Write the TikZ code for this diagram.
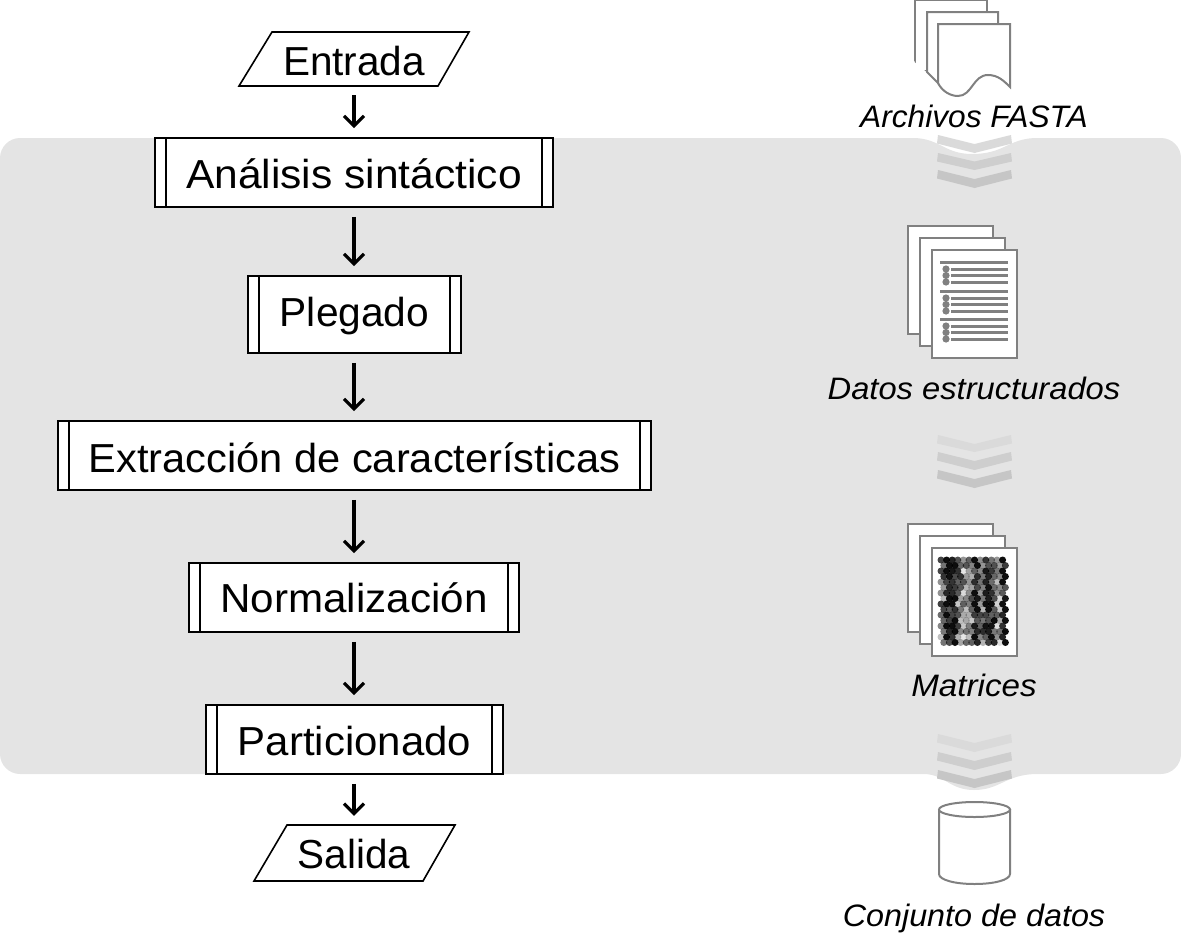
\documentclass[tikz,border=0pt]{standalone}
\usepackage{fontspec}
\setmainfont{Liberation Sans}
\usetikzlibrary{arrows.meta}
\definecolor{panel}{HTML}{E4E4E4}
\definecolor{icon}{HTML}{808080}
\definecolor{chevA}{HTML}{DADADA}
\definecolor{chevB}{HTML}{CECECE}
\definecolor{chevC}{HTML}{C6C6C6}
\newcommand{\bigtext}[3]{{\fontsize{40.5}{42}\selectfont\addfontfeature{FakeStretch=#1}\raisebox{#2}[0pt][0pt]{#3}}}
\newcommand{\smalltext}[2]{{\fontsize{31}{33}\selectfont\itshape\addfontfeature{FakeStretch=#1}#2}}
\tikzset{
  proc/.style={draw=black,fill=white,line width=1.6pt,rectangle,inner sep=0pt,text=black},
  io/.style={inner sep=0pt,text=black},
  flow/.style={line width=3.2pt,black,-{Straight Barb[length=10pt,width=20pt,line width=3.2pt]},shorten <=9pt,shorten >=9pt},
  bar/.style={line width=1.6pt,black},
  para/.style={draw=black,fill=white,line width=1.6pt},
  sheet/.style={draw=icon,fill=white,line width=2pt},
  ruleline/.style={draw=icon,line width=3pt},
  lbl/.style={inner sep=0pt,text=black}
}
\newcommand{\chev}[4]{\fill[#4] (938,#1) -- (974.5,#2) -- (1011,#1) -- (1012,#1+8.5) -- (974.5,#3) -- (937,#1+8.5) -- cycle;}
\newcommand{\docrules}[1]{%
  \draw[ruleline] (940,#1) -- (1008,#1);
  \foreach \d in {7,13.5,20}{\draw[ruleline] (951,#1+\d) -- (1008,#1+\d);\fill[icon] (946,#1+\d) circle (3.6);}
}
\begin{document}
\begin{tikzpicture}[x=1pt,y=-1pt]
\useasboundingbox (0,0) rectangle (1181,948);
% panel
\fill[panel] (20,138) -- (915,138) .. controls (940,139) and (945,154) .. (972,154) .. controls (1004,154) and (1008,139) .. (1035,138) -- (1161,138)
  .. controls (1172,138) and (1181,147) .. (1181,158) -- (1181,754) .. controls (1181,765) and (1172,774) .. (1161,774) -- (1035,774)
  .. controls (1005,775) and (1000,790) .. (974,790) .. controls (950,790) and (945,775) .. (925,774) -- (20,774)
  .. controls (9,774) and (0,765) .. (0,754) -- (0,158) .. controls (0,147) and (9,138) .. (20,138) -- cycle;
% chevrons
\chev{135}{144}{153}{chevA}\chev{153}{161.5}{170}{chevB}\chev{170}{179}{188}{chevC}
\chev{435}{444}{452}{chevA}\chev{452}{461}{470}{chevB}\chev{470}{479}{488}{chevC}
\chev{734}{743}{752}{chevA}\chev{752}{761}{770}{chevB}\chev{770}{779}{788}{chevC}
% parallelograms
\draw[para] (272,32) -- (469,32) -- (438,86) -- (239,86) -- cycle;
\draw[para] (287,825) -- (455,825) -- (423,881) -- (254,881) -- cycle;
% flow nodes
\node[io,minimum width=199pt,minimum height=54pt] (ent) at (354,59) {\bigtext{1.0}{-16pt}{Entrada}};
\node[proc,minimum width=398pt,minimum height=69pt] (ana) at (354,172.5) {\bigtext{1.05}{-15.5pt}{Análisis sintáctico}};
\node[proc,minimum width=213pt,minimum height=77pt] (ple) at (354.5,314.5) {\bigtext{1.005}{-11.5pt}{Plegado}};
\node[proc,minimum width=593pt,minimum height=69pt] (ext) at (354.5,455.5) {\bigtext{1.027}{-16.5pt}{Extracción de características}};
\node[proc,minimum width=330pt,minimum height=69pt] (nor) at (354,597.5) {\bigtext{1.041}{-15pt}{Normalización}};
\node[proc,minimum width=297pt,minimum height=69pt] (par) at (354.5,739.5) {\bigtext{1.036}{-15.5pt}{Particionado}};
\node[io,minimum width=169pt,minimum height=56pt] (sal) at (354,853) {\bigtext{1.0}{-15pt}{Salida}};
\foreach \n in {ana,ple,ext,nor,par}{
  \draw[bar] ([xshift=12pt]\n.north west) -- ([xshift=12pt]\n.south west);
  \draw[bar] ([xshift=-12pt]\n.north east) -- ([xshift=-12pt]\n.south east);
}
\draw[flow] (ent.south) -- (ent.south |- ana.north);
\draw[flow] (ana.south) -- (ana.south |- ple.north);
\draw[flow] (ana.south |- ple.south) -- (ana.south |- ext.north);
\draw[flow] (ana.south |- ext.south) -- (ana.south |- nor.north);
\draw[flow] (nor.south) -- (nor.south |- par.north);
\draw[flow] (nor.south |- par.south) -- (nor.south |- sal.north);
% FASTA icon
\draw[sheet] (915,61) -- (915,0) -- (987,0) -- (987,12);
\draw[sheet] (915,61) -- (927,71);
\fill[white] (916,1) rectangle (986,12);
\fill[white] (916,12) rectangle (927,70);
\draw[sheet,fill=white] (927,72) -- (927,12) -- (998,12) -- (998,24) -- (938,24) -- (938,83) -- cycle;
\draw[sheet] (938,83) .. controls (942,91) and (950,96) .. (958,96) .. controls (972,96) and (973,75) .. (988,75) .. controls (998,75) and (1004,81) .. (1010,87) -- (1010,24) -- (938,24) -- cycle;
% data icon
\draw[sheet] (908,226) rectangle (993,334);
\draw[sheet] (920,238) rectangle (1005,346);
\draw[sheet] (932,249.5) rectangle (1017,358);
\docrules{262}\docrules{291}\docrules{319}
% matrix icon
\draw[sheet] (908,524) rectangle (993,632);
\draw[sheet] (920,536) rectangle (1005,644);
\draw[sheet] (932,548) rectangle (1017,656);
\pgfmathsetseed{4217}
\foreach \c/\dk in {0/50,1/92,2/88,3/52,4/38,5/42,6/88,7/58,8/82,9/78,10/38,11/92}{
  \foreach \r in {0,...,15}{
    \pgfmathsetmacro{\px}{941+5.6*\c+(mod(\r,2)==1 ? 2.8 : 0)}
    \pgfmathsetmacro{\py}{560+5.5*\r}
    \pgfmathsetmacro{\v}{max(10,min(95,\dk+rnd*60-30))}
    \fill[black,opacity=\v/100] (\px,\py) circle (3.5);
  }
}
% cylinder
\draw[sheet] (939,809) -- (939,874) .. controls (939,880) and (955,884) .. (974.5,884) .. controls (994,884) and (1010,880) .. (1010,874) -- (1010,809);
\draw[sheet] (974.5,809.5) ellipse (35.5 and 7.5);
% labels
\node[lbl] (l1) at (974,116) {\smalltext{1.022}{Archivos FASTA}};
\node[lbl] (l2) at (974,388) {\smalltext{1.055}{Datos estructurados}};
\node[lbl] (l3) at (974,685) {\smalltext{1.07}{Matrices}};
\node[lbl] (l4) at (974,918) {\smalltext{1.043}{Conjunto de datos}};
\end{tikzpicture}
\end{document}
